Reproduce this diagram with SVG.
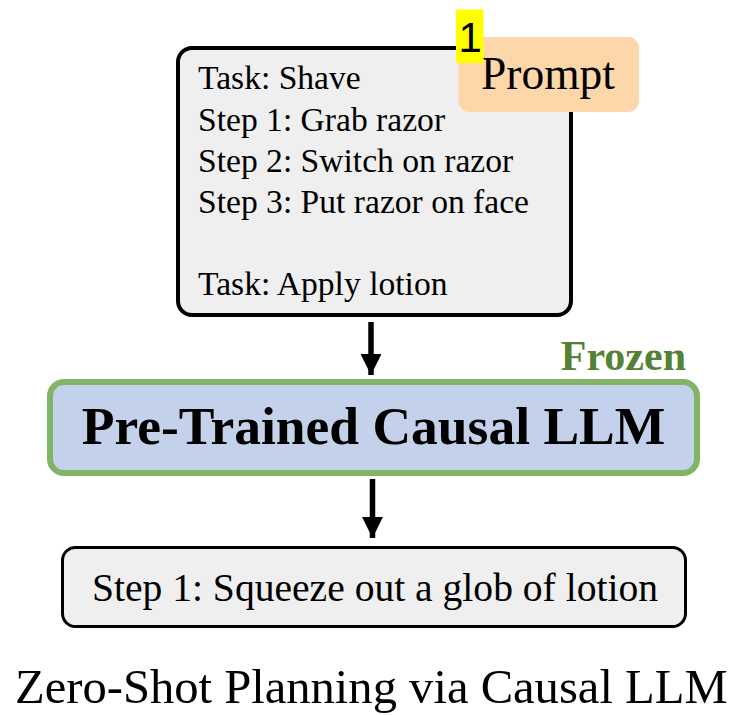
<svg xmlns="http://www.w3.org/2000/svg" width="736" height="715" viewBox="0 0 736 715">
  <style>
    .serif { font-family: "Liberation Serif", "Times New Roman", serif; fill: #000; }
    .box { fill: #efefef; stroke: #000; }
    .arrow { stroke: #000; stroke-width: 5.5; fill: none; }
  </style>
  <defs>
    <marker id="ah" viewBox="0 0 10 10" refX="10" refY="5" markerWidth="3.8" markerHeight="3.8" markerUnits="strokeWidth" orient="auto">
      <path d="M0,0 L10,5 L0,10 Z" fill="#000"/>
    </marker>
  </defs>
  <rect width="736" height="715" fill="#fff"/>

  <g id="prompt-box">
    <rect class="box" x="178" y="48" width="393" height="267" rx="14" ry="14" stroke-width="4"/>
    <text class="serif" font-size="33.6" x="198" y="89">Task: Shave</text>
    <text class="serif" font-size="33.6" x="198" y="130.5">Step 1: Grab razor</text>
    <text class="serif" font-size="33.6" x="198" y="171.5">Step 2: Switch on razor</text>
    <text class="serif" font-size="33.6" x="198" y="212.5">Step 3: Put razor on face</text>
    <text class="serif" font-size="33.6" x="198" y="295">Task: Apply lotion</text>
  </g>

  <g id="prompt-label">
    <rect x="458.5" y="37" width="180.5" height="75" rx="11" ry="11" fill="#fdd6aa"/>
    <text class="serif" font-size="45.5" x="481" y="89.3">Prompt</text>
  </g>

  <g id="marker-1">
    <rect x="456" y="9.5" width="27.5" height="53.5" fill="#ffff00"/>
    <text font-family="Liberation Sans, Arial, sans-serif" font-size="42" x="458.5" y="52">1</text>
  </g>

  <g id="llm">
    <rect x="50" y="382" width="647" height="91" rx="14" ry="14" fill="#c3d2ea" stroke="#82b366" stroke-width="6"/>
    <text class="serif" font-size="53.5" font-weight="bold" x="373.5" y="444" text-anchor="middle">Pre-Trained Causal LLM</text>
  </g>

  <g id="frozen-label">
    <text font-family="Liberation Serif, 'Times New Roman', serif" font-size="42" font-weight="bold" fill="#548235" x="686" y="370" text-anchor="end">Frozen</text>
  </g>

  <g id="output-box">
    <rect class="box" x="62.5" y="547.5" width="623" height="79" rx="13" ry="13" stroke-width="3"/>
    <text class="serif" font-size="39.6" x="375" y="601" text-anchor="middle">Step 1: Squeeze out a glob of lotion</text>
  </g>

  <g id="connectors">
    <line class="arrow" x1="371" y1="322" x2="371" y2="375" marker-end="url(#ah)"/>
    <line class="arrow" x1="372.5" y1="479" x2="372.5" y2="538" marker-end="url(#ah)"/>
  </g>

  <g id="caption">
    <text class="serif" font-size="48.6" x="15" y="703">Zero-Shot Planning via Causal LLM</text>
  </g>
</svg>
